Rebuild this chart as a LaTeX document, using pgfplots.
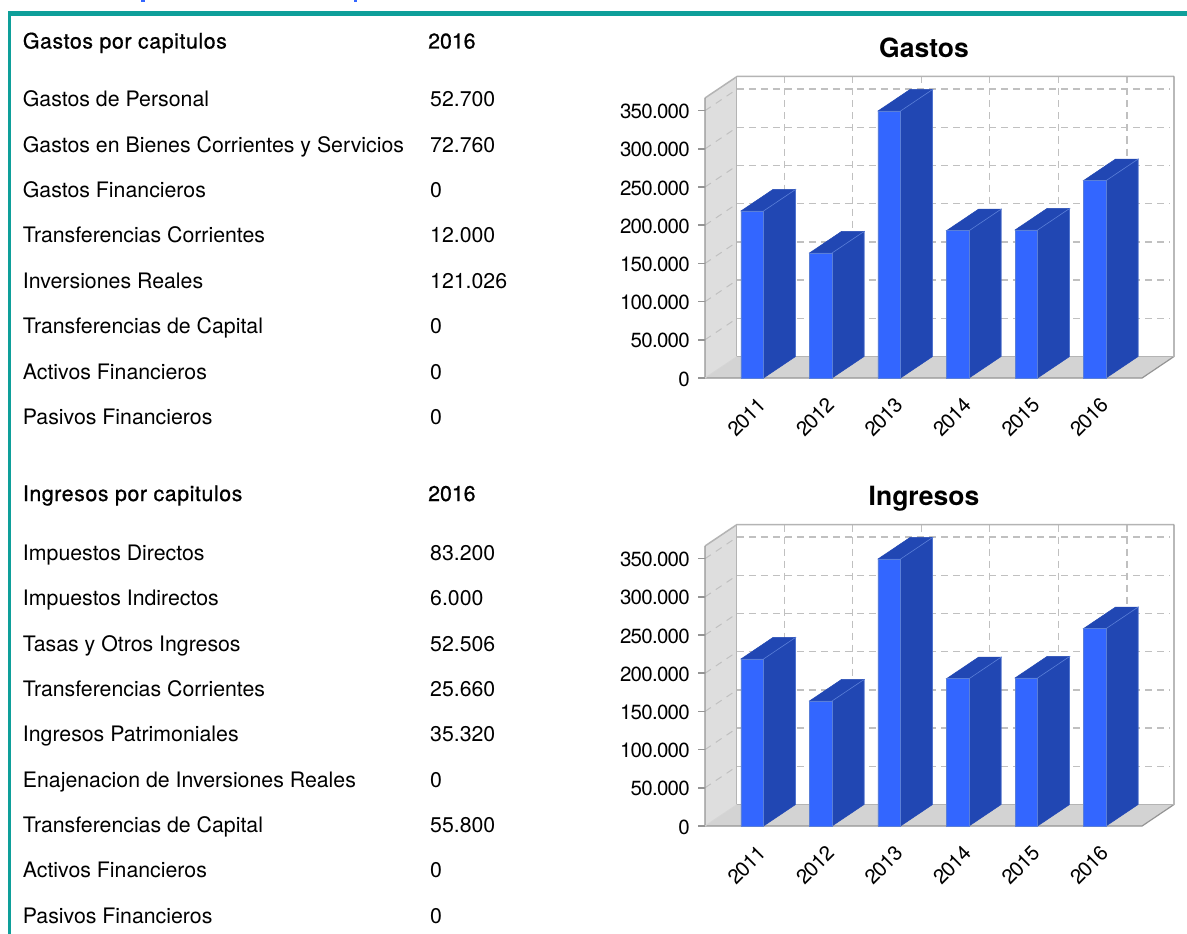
\documentclass[border=0pt]{standalone}
\usepackage{pgfplots}
\pgfplotsset{compat=1.18}
\usepackage{fontspec}
\setmainfont{TeX Gyre Heros}
\newfontface\medfont[FakeBold=0.8,LetterSpace=2.8]{TeX Gyre Heros}
\newfontface\medyear[FakeBold=0.8]{TeX Gyre Heros}
\newfontface\tickfont[LetterSpace=-3.5]{TeX Gyre Heros}
\definecolor{teal1}{HTML}{0E9F9A}
\definecolor{barfront}{HTML}{3366FF}
\definecolor{barside}{HTML}{2147B3}
\definecolor{baredge}{HTML}{5A7FD8}
\definecolor{floorc}{HTML}{D3D3D3}
\definecolor{wallc}{HTML}{DEDEDE}
\definecolor{gridc}{HTML}{C0C0C0}
\definecolor{framea}{HTML}{B4B4B4}
\definecolor{frameb}{HTML}{959595}
\newcommand\faces[2]{%
  \pgfmathsetmacro\xa{#1+0.165}%
  \pgfmathsetmacro\xb{#1+0.632}%
  \pgfmathsetmacro\xc{#1+0.302}%
  \edef\tmp{\noexpand\addplot[fill=barside,draw=barside,line width=0.5pt,forget plot] coordinates {(\xa,0)(\xb,28150)(\xb,\the\numexpr#2+28150\relax)(\xa,#2)} --cycle;
  \noexpand\addplot[fill=barside,draw=barside,line width=0.5pt,forget plot] coordinates {(#1-0.165,#2)(\xa,#2)(\xb,\the\numexpr#2+28150\relax)(\xc,\the\numexpr#2+28150\relax)} --cycle;
  \noexpand\addplot[draw=baredge,line width=0.6pt,forget plot] coordinates {(\xa,#2)(\xb,\the\numexpr#2+28150\relax)(\xb,28150)};}\tmp}
\newcommand\gridh[1]{%
  \edef\tmp{\noexpand\addplot[gridc,line width=1.4pt,dash pattern=on 7pt off 5pt,forget plot] coordinates {(-0.223,\the\numexpr#1+28150\relax)(6.09,\the\numexpr#1+28150\relax)};
  \noexpand\addplot[gridc,line width=1pt,dash pattern=on 7pt off 6pt,forget plot] coordinates {(-0.69,#1)(-0.223,\the\numexpr#1+28150\relax)};}\tmp}
\newcommand\gridv[1]{\addplot[gridc,line width=1.4pt,dash pattern=on 7pt off 5pt,forget plot] coordinates {(#1,394750)(#1,28150)};}
\newcommand\chart[1]{%
\begin{axis}[
  at={(705pt,-#1pt)},anchor=south west,
  scale only axis,width=469pt,height=301.5pt,
  xmin=-0.69,xmax=6.156,ymin=0,ymax=394750,clip=false,
  axis line style={draw=none},
  xtick={0,1,2,3,4,5},xticklabels={2011,2012,2013,2014,2015,2016},
  xtick pos=bottom,ytick pos=left,tick align=outside,
  xtick style={draw=none},
  ytick={0,50000,100000,150000,200000,250000,300000,350000},
  ytick style={draw=frameb,line width=1.6pt},
  major tick length=7pt,
  scaled y ticks=false,
  /pgf/number format/.cd,fixed,1000 sep={.},assume math mode=true,/pgfplots/.cd,
  yticklabel style={font=\tickfont\fontsize{20.5}{22}\selectfont,black,inner sep=0pt,xshift=-8pt,yshift=-1pt},
  xticklabel style={font=\tickfont\fontsize{20.5}{22}\selectfont,black,rotate=45,anchor=north east,inner sep=0pt,xshift=-5pt,yshift=-11pt},
]
\addplot[fill=white,draw=none,forget plot] coordinates {(-0.223,28150)(6.156,28150)(6.156,394750)(-0.223,394750)} --cycle;
\addplot[fill=wallc,draw=none,forget plot] coordinates {(-0.69,0)(-0.223,28150)(-0.223,394750)(-0.69,366600)} --cycle;
\addplot[fill=floorc,draw=none,forget plot] coordinates {(-0.69,0)(5.69,0)(6.156,28150)(-0.223,28150)} --cycle;
\gridh{50000}\gridh{100000}\gridh{150000}\gridh{200000}\gridh{250000}\gridh{300000}\gridh{350000}
\gridv{0.467}\gridv{1.467}\gridv{2.467}\gridv{3.467}\gridv{4.467}\gridv{5.467}
\addplot[framea,line width=1.5pt,forget plot] coordinates {(-0.69,366600)(-0.223,394750)(6.156,394750)};
\addplot[frameb,line width=1.2pt,forget plot] coordinates {(6.156,394750)(6.156,28150)(5.69,0)(-0.69,0)(-0.69,366600)};
\addplot[framea,line width=1pt,forget plot] coordinates {(-0.223,394750)(-0.223,28150)(6.156,28150)};
\addplot[color=wallc!70!gridc,line width=0.8pt,forget plot] coordinates {(-0.69,0)(-0.223,28150)};
\faces{0}{218700}\faces{1}{163700}\faces{2}{349600}\faces{3}{192900}\faces{4}{193800}\faces{5}{258486}
\addplot[ybar,bar width=22.6pt,fill=barfront,draw=baredge,line width=0.4pt] coordinates {(0,218700)(1,163700)(2,349600)(3,192900)(4,193800)(5,258486)};
\end{axis}}
\begin{document}
\begin{tikzpicture}[x=1pt,y=-1pt]
\path[use as bounding box] (0,0) rectangle (1187,934);
\clip (0,0) rectangle (1187,934);
\fill[white] (0,0) rectangle (1187,934);
% banner rule and the cut-off strokes above it
\fill[barfront] (141,0) rectangle (144.5,2.3);
\fill[barfront] (353.5,0) rectangle (357,2.3);
\fill[teal1] (8,11.5) rectangle (1187,16);
\fill[teal1] (8,11.5) rectangle (10.5,934);
% table
\tikzset{cell/.style={anchor=base west,inner sep=0pt,font=\fontsize{21.3}{24}\selectfont,text=black}}
\foreach \yy/\name/\val in {
 106.5/Gastos de Personal/52.700,
 152.5/Gastos en Bienes Corrientes y Servicios/72.760,
 197.5/Gastos Financieros/0,
 242.5/Transferencias Corrientes/12.000,
 288.5/Inversiones Reales/121.026,
 333.5/Transferencias de Capital/0,
 379.5/Activos Financieros/0,
 424.5/Pasivos Financieros/0,
 560.5/Impuestos Directos/83.200,
 605.5/Impuestos Indirectos/6.000,
 651.5/Tasas y Otros Ingresos/52.506,
 696.5/Transferencias Corrientes/25.660,
 741.5/Ingresos Patrimoniales/35.320,
 787.5/Enajenacion de Inversiones Reales/0,
 832.5/Transferencias de Capital/55.800,
 877.5/Activos Financieros/0,
 923.5/Pasivos Financieros/0}{
 \node[cell] at (22.7,\yy) {\name};
 \node[cell] at (430,\yy) {\val};
}
\node[cell,font=\medfont\fontsize{21.3}{24}\selectfont] at (22.7,48.5) {Gastos por capitulos};
\node[cell,font=\medyear\fontsize{21.3}{24}\selectfont] at (428,48.5) {2016};
\node[cell,font=\medfont\fontsize{21.3}{24}\selectfont] at (22.7,501) {Ingresos por capitulos};
\node[cell,font=\medyear\fontsize{21.3}{24}\selectfont] at (428,501) {2016};
% titles
\node[anchor=base,inner sep=0pt,font=\bfseries\fontsize{26.5}{30}\selectfont] at (924,57.5) {Gastos};
\node[anchor=base,inner sep=0pt,font=\bfseries\fontsize{26.5}{30}\selectfont] at (924,505.5) {Ingresos};
\chart{378}
\chart{826}
\end{tikzpicture}
\end{document}
